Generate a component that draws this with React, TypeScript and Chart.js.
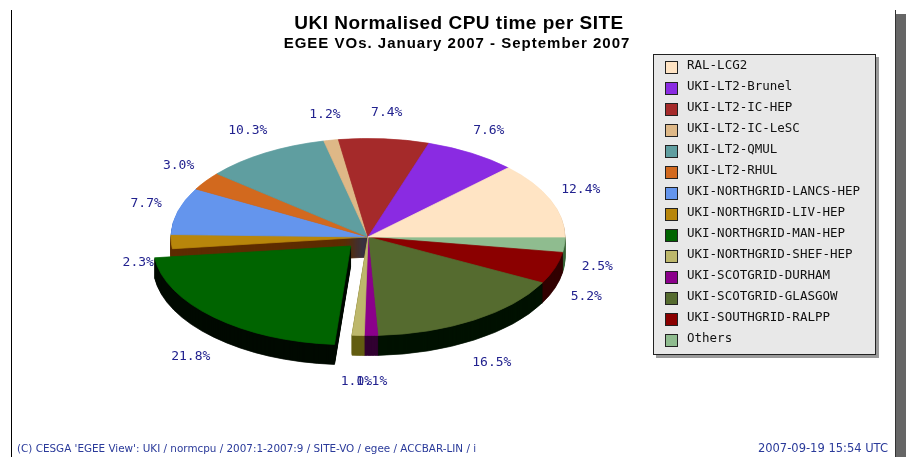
import React, { useEffect, useRef } from "react";
import { Chart, registerables } from "chart.js";

Chart.register(...registerables);

// ---- data ----
const sites = [
  "RAL-LCG2",
  "UKI-LT2-Brunel",
  "UKI-LT2-IC-HEP",
  "UKI-LT2-IC-LeSC",
  "UKI-LT2-QMUL",
  "UKI-LT2-RHUL",
  "UKI-NORTHGRID-LANCS-HEP",
  "UKI-NORTHGRID-LIV-HEP",
  "UKI-NORTHGRID-MAN-HEP",
  "UKI-NORTHGRID-SHEF-HEP",
  "UKI-SCOTGRID-DURHAM",
  "UKI-SCOTGRID-GLASGOW",
  "UKI-SOUTHGRID-RALPP",
  "Others",
];
const shares = [12.4, 7.6, 7.4, 1.2, 10.3, 3.0, 7.7, 2.3, 21.8, 1.0, 1.1, 16.5, 5.2, 2.5];
const colors = [
  "#FFE4C4",
  "#8A2BE2",
  "#A52A2A",
  "#DEB887",
  "#5F9EA0",
  "#D2691E",
  "#6495ED",
  "#B8860B",
  "#006400",
  "#BDB76B",
  "#8B008B",
  "#556B2F",
  "#8B0000",
  "#8FBC8F",
];
const explodedSite = "UKI-NORTHGRID-MAN-HEP";

const titleText = "UKI Normalised CPU time per SITE";
const subtitleText = "EGEE VOs. January 2007 - September 2007";
const footerLeft = "(C) CESGA 'EGEE View': UKI / normcpu / 2007:1-2007:9 / SITE-VO / egee / ACCBAR-LIN / i";
const footerRight = "2007-09-19 15:54 UTC";

// ---- style constants ----
const TILT = 0.5;
const DEPTH = 20;
const RADIUS = 197;
const EXPLODE = 100;
const LABEL_RX = 230;
const LABEL_RY = 125;
const LABEL_COLOR = "#22228f";

function darken(hex: string, amt: number): string {
  const n = parseInt(hex.slice(1), 16);
  const r = Math.max(0, ((n >> 16) & 255) - amt);
  const g = Math.max(0, ((n >> 8) & 255) - amt);
  const b = Math.max(0, (n & 255) - amt);
  return `rgb(${r},${g},${b})`;
}

const pie3dPlugin = {
  id: "pie3d",
  beforeDatasetsDraw(chart: any) {
    const ctx = chart.ctx as CanvasRenderingContext2D;
    const meta = chart.getDatasetMeta(0);
    const els = meta.data as any[];
    if (!els.length) return;
    const cx = els[0].x;
    const cy = els[0].y;
    for (let d = DEPTH; d >= 1; d--) {
      ctx.save();
      ctx.translate(cx, cy + d);
      ctx.scale(1, TILT);
      ctx.translate(-cx, -cy);
      els.forEach((el) => {
        const saved = el.options;
        const dk = darken(saved.backgroundColor, 90);
        el.options = Object.assign({}, saved, { backgroundColor: dk, borderColor: dk });
        el.draw(ctx, chart.chartArea);
        el.options = saved;
      });
      ctx.restore();
    }
    ctx.save();
    ctx.translate(cx, cy);
    ctx.scale(1, TILT);
    ctx.translate(-cx, -cy);
  },
  afterDatasetsDraw(chart: any) {
    const ctx = chart.ctx as CanvasRenderingContext2D;
    ctx.restore();
    const meta = chart.getDatasetMeta(0);
    const els = meta.data as any[];
    const values = chart.data.datasets[0].data as number[];
    ctx.save();
    ctx.font = "13px 'DejaVu Sans Mono', monospace";
    ctx.fillStyle = LABEL_COLOR;
    ctx.textAlign = "center";
    ctx.textBaseline = "middle";
    els.forEach((el, i) => {
      const { x, y, startAngle, endAngle, circumference } = el;
      const mid = (startAngle + endAngle) / 2;
      const off = (el.options.offset || 0) / 4;
      const fix = 1 - Math.sin(Math.min(Math.PI, circumference || 0));
      const tot = off + off * fix;
      const ex = Math.cos(mid) * tot;
      const ey = Math.sin(mid) * tot;
      const s = Math.sin(mid);
      const lx = x + ex + Math.cos(mid) * LABEL_RX;
      const ly = y + ey * TILT + s * LABEL_RY + (s > 0 ? DEPTH : 0);
      ctx.fillText(values[i].toFixed(1) + "%", lx, ly);
    });
    ctx.restore();
  },
};

export default function App() {
  const ref = useRef<HTMLCanvasElement | null>(null);

  useEffect(() => {
    if (!ref.current) return;
    // Chart.js draws clockwise; the reference runs counter-clockwise from 3 o'clock
    const order = sites.map((_, i) => sites.length - 1 - i);
    const chart = new Chart(ref.current, {
      type: "pie",
      data: {
        labels: order.map((i) => sites[i]),
        datasets: [
          {
            data: order.map((i) => shares[i]),
            backgroundColor: order.map((i) => colors[i]),
            borderColor: order.map((i) => colors[i]),
            borderWidth: 1,
            offset: order.map((i) => (sites[i] === explodedSite ? EXPLODE : 0)),
            hoverOffset: 0,
            clip: false as any,
          },
        ],
      },
      options: {
        responsive: false,
        animation: false,
        events: [],
        rotation: 90,
        radius: RADIUS,
        layout: { padding: { left: 0, right: 170, top: 17, bottom: 0 } },
        plugins: {
          legend: { display: false },
          tooltip: { enabled: false },
          title: { display: false },
        },
      } as any,
      plugins: [pie3dPlugin],
    });
    return () => chart.destroy();
  }, []);

  const mono = "'DejaVu Sans Mono', monospace";

  return (
    <div style={{ position: "absolute", left: 0, top: 0, width: 906, height: 457, background: "#fff", overflow: "hidden" }}>
      <canvas ref={ref} width={906} height={457} style={{ position: "absolute", left: 0, top: 0 }} />
      {/* frame */}
      <div style={{ position: "absolute", left: 11, top: 10, width: 1, height: 447, background: "#000" }} />
      <div style={{ position: "absolute", left: 895, top: 10, width: 1, height: 447, background: "#333" }} />
      <div style={{ position: "absolute", left: 896, top: 14, width: 10, height: 443, background: "#666" }} />
      {/* titles */}
      <div
        style={{
          position: "absolute", left: 459, top: 12.9, transform: "translateX(-50%)", whiteSpace: "nowrap",
          font: "bold 19px 'Liberation Sans', Arial, sans-serif", lineHeight: "19px", color: "#000",
          letterSpacing: "0.5px",
        }}
      >
        {titleText}
      </div>
      <div
        style={{
          position: "absolute", left: 457, top: 34.5, transform: "translateX(-50%)", whiteSpace: "nowrap",
          font: "bold 15px 'Liberation Sans', Arial, sans-serif", lineHeight: "15px", color: "#000",
          letterSpacing: "1px",
        }}
      >
        {subtitleText}
      </div>
      {/* legend */}
      <div
        style={{
          position: "absolute", left: 653, top: 54, width: 221, height: 297, background: "#e8e8e8",
          border: "1px solid #222", boxShadow: "3px 3px 0 #9a9a9a", paddingTop: 2, boxSizing: "content-box",
        }}
      >
        {sites.map((s, i) => (
          <div key={s} style={{ position: "relative", height: 21, display: "flex", alignItems: "center" }}>
            <div
              style={{
                position: "absolute", left: 11, top: 4, width: 11, height: 11, background: colors[i],
                border: "1px solid #222",
              }}
            />
            <span
              style={{
                position: "absolute", left: 33, top: 0, lineHeight: "21px", font: `12.5px ${mono}`,
                color: "#111", whiteSpace: "nowrap",
              }}
            >
              {s}
            </span>
          </div>
        ))}
      </div>
      {/* footer */}
      <div
        style={{
          position: "absolute", left: 17, top: 441, whiteSpace: "nowrap",
          font: "10.4px 'DejaVu Sans', sans-serif", lineHeight: "14px", color: "#2a3a9a",
        }}
      >
        {footerLeft}
      </div>
      <div
        style={{
          position: "absolute", right: 906 - 888, top: 441, whiteSpace: "nowrap",
          font: "11.5px 'DejaVu Sans', sans-serif", lineHeight: "14px", color: "#2a3a9a",
        }}
      >
        {footerRight}
      </div>
    </div>
  );
}
